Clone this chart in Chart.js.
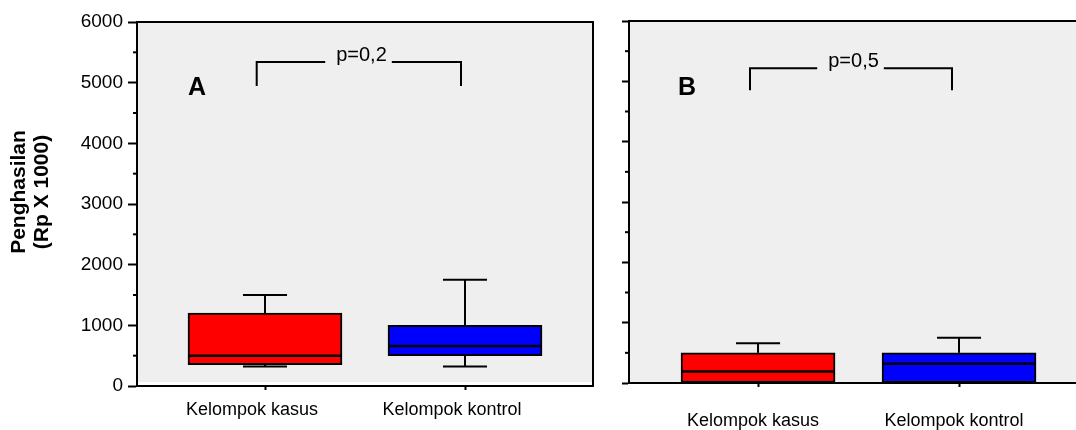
<!DOCTYPE html>
<html>
<head>
<meta charset="utf-8">
<script src="https://cdn.jsdelivr.net/npm/chart.js@4.4.1/dist/chart.umd.min.js"></script>
<style>
  html, body { margin: 0; padding: 0; background: #ffffff; }
  #wrap { position: relative; width: 1076px; height: 430px; overflow: hidden; }
  canvas { position: absolute; top: 0; }
  #panelA { left: 0; }
  #panelB { left: 600px; }
</style>
</head>
<body>
<div id="wrap">
  <canvas id="panelA" width="600" height="430"></canvas>
  <canvas id="panelB" width="476" height="430"></canvas>
</div>
<script>
// Groups on the x axis
const categories = ['Kelompok kasus', 'Kelompok kontrol'];
const boxColors = ['#ff0000', '#0000ff'];

// Income (Rp x 1000), panel A: whisker low, Q1, median, Q3, whisker high
const aWhiskerLow = [320, 320];
const aQ1 = [350, 500];
const aMedian = [500, 660];
const aQ3 = [1200, 1000];
const aWhiskerHigh = [1500, 1750];

// Income (Rp x 1000), panel B
const bWhiskerLow = [0, 0];
const bQ1 = [0, 0];
const bMedian = [190, 320];
const bQ3 = [500, 500];
const bWhiskerHigh = [660, 750];

// Y axis range and tick steps
const yMin = 0;
const yMax = 6000;
const yMajorStep = 1000;
const yMinorStep = 500;

// Panel captions
const panelLetters = ['A', 'B'];
const pLabels = ['p=0,2', 'p=0,5'];
const yTitleLines = ['Penghasilan', '(Rp X 1000)'];

const FAMILY = "'Liberation Sans', Arial, Helvetica, sans-serif";
Chart.defaults.font.family = FAMILY;
Chart.defaults.color = '#000';

function seg(ctx, x1, y1, x2, y2) {
  ctx.beginPath();
  ctx.moveTo(x1, y1);
  ctx.lineTo(x2, y2);
  ctx.stroke();
}

function makePanel(canvasId, p) {
  // grey plot area, frame lines and the short half-step ticks
  const frame = {
    id: 'frame',
    beforeDraw(chart) {
      const { ctx, chartArea: a } = chart;
      ctx.save();
      ctx.fillStyle = '#efefef';
      ctx.fillRect(a.left, a.top, a.right - a.left, a.bottom - a.top - p.bottomGap);
      ctx.restore();
    },
    afterDraw(chart) {
      const { ctx, chartArea: a, scales: { y } } = chart;
      ctx.save();
      ctx.strokeStyle = '#000';
      ctx.lineWidth = 2;
      seg(ctx, a.left - 1, a.top, a.right + 1, a.top);
      if (p.rightEdge) seg(ctx, a.right, a.top, a.right, a.bottom + 1);
      y.ticks.forEach(t => {
        if (t.value % yMajorStep !== 0) {
          const py = y.getPixelForValue(t.value);
          seg(ctx, a.left - p.minorTick, py, a.left, py);
        }
      });
      ctx.restore();
    }
  };

  // medians, whiskers and caps on top of the floating boxes
  const whiskers = {
    id: 'whiskers',
    afterDatasetsDraw(chart) {
      const { ctx, scales: { y } } = chart;
      ctx.save();
      ctx.strokeStyle = '#000';
      chart.getDatasetMeta(0).data.forEach((bar, i) => {
        const { x, width } = bar.getProps(['x', 'width'], true);
        const half = width / 2;
        const cap = width * 0.143;
        const pLow = y.getPixelForValue(p.low[i]);
        const pQ1 = y.getPixelForValue(p.q1[i]);
        const pMed = y.getPixelForValue(p.median[i]);
        const pQ3 = y.getPixelForValue(p.q3[i]);
        const pHigh = y.getPixelForValue(p.high[i]);
        ctx.lineWidth = 2;
        seg(ctx, x, pQ3, x, pHigh);
        seg(ctx, x - cap, pHigh, x + cap, pHigh);
        seg(ctx, x, pQ1, x, pLow);
        seg(ctx, x - cap, pLow, x + cap, pLow);
        ctx.lineWidth = 2.5;
        seg(ctx, x - half + 1, pMed, x + half - 1, pMed);
      });
      ctx.restore();
    }
  };

  // significance bracket and panel letter
  const bracket = {
    id: 'bracket',
    afterDraw(chart) {
      const { ctx, scales: { x, y } } = chart;
      const b = p.bracket;
      ctx.save();
      ctx.strokeStyle = '#000';
      ctx.fillStyle = '#000';
      ctx.lineWidth = 2;
      const xl = x.getPixelForValue(b.from);
      const xr = x.getPixelForValue(b.to);
      const xt = x.getPixelForValue(b.textAt);
      const yt = y.getPixelForValue(b.top);
      const yf = y.getPixelForValue(b.foot);
      ctx.font = '20px ' + FAMILY;
      ctx.textAlign = 'center';
      ctx.textBaseline = 'alphabetic';
      const w = ctx.measureText(p.pLabel).width;
      ctx.fillText(p.pLabel, xt, yt - 1);
      ctx.beginPath();
      ctx.moveTo(xl, yf);
      ctx.lineTo(xl, yt);
      ctx.lineTo(xt - w / 2 - 11, yt);
      ctx.moveTo(xt + w / 2 + 5, yt);
      ctx.lineTo(xr, yt);
      ctx.lineTo(xr, yf);
      ctx.stroke();
      ctx.font = 'bold 25px ' + FAMILY;
      ctx.fillText(p.letter, x.getPixelForValue(b.letterX), y.getPixelForValue(b.letterY));
      ctx.restore();
    }
  };

  // two-line rotated title of the income axis
  const yTitle = {
    id: 'yTitle',
    afterDraw(chart) {
      if (!p.yTitle) return;
      const { ctx } = chart;
      ctx.save();
      ctx.fillStyle = '#000';
      ctx.font = 'bold 21px ' + FAMILY;
      ctx.textAlign = 'center';
      ctx.textBaseline = 'alphabetic';
      p.yTitle.forEach((line, i) => {
        ctx.save();
        ctx.translate(25 + i * 23, 192);
        ctx.rotate(-Math.PI / 2);
        ctx.fillText(line, 0, 0);
        ctx.restore();
      });
      ctx.restore();
    }
  };

  return new Chart(document.getElementById(canvasId), {
    type: 'bar',
    data: {
      datasets: [{
        data: categories.map((c, i) => ({ x: i + 1, y: [p.q1[i], p.q3[i]] })),
        backgroundColor: boxColors,
        borderColor: '#000',
        borderWidth: 2,
        borderSkipped: false,
        barThickness: 154
      }]
    },
    options: {
      responsive: false,
      animation: false,
      events: [],
      layout: { padding: { top: p.top, right: p.padRight, left: 0, bottom: 0 } },
      plugins: { legend: { display: false }, tooltip: { enabled: false } },
      scales: {
        x: {
          type: 'linear',
          offset: false,
          min: p.xMin,
          max: p.xMax,
          afterBuildTicks: s => { s.ticks = categories.map((c, i) => ({ value: i + 1 })); },
          afterFit: s => { s.height = 430 - p.bottom; },
          grid: { offset: false, drawOnChartArea: false, drawTicks: true, tickLength: 4, tickWidth: 2, tickColor: '#000' },
          border: { display: true, color: '#000', width: 2 },
          ticks: {
            callback: v => categories[v - 1],
            padding: p.xPad,
            labelOffset: p.labelOffset,
            autoSkip: false,
            maxRotation: 0,
            color: '#000',
            font: { size: 18 }
          }
        },
        y: {
          type: 'linear',
          min: yMin,
          max: yMax,
          afterFit: s => { s.width = p.left; },
          grid: {
            drawOnChartArea: false,
            drawTicks: true,
            tickLength: p.majorTick,
            tickWidth: 2,
            tickColor: c => (c.tick && c.tick.value % yMajorStep === 0) ? '#000' : 'rgba(0,0,0,0)'
          },
          border: { display: true, color: '#000', width: 2 },
          ticks: {
            display: p.showLabels,
            stepSize: yMinorStep,
            autoSkip: false,
            padding: 5,
            color: '#000',
            font: { size: 19 },
            callback: v => (v % yMajorStep === 0 ? String(v) : '')
          }
        }
      }
    },
    plugins: [frame, whiskers, bracket, yTitle]
  });
}

makePanel('panelA', {
  low: aWhiskerLow, q1: aQ1, median: aMedian, q3: aQ3, high: aWhiskerHigh,
  letter: panelLetters[0], pLabel: pLabels[0], yTitle: yTitleLines,
  left: 137, top: 22, padRight: 7, bottom: 386,
  xMin: 0.36, xMax: 2.64, xPad: 9, labelOffset: -13,
  majorTick: 9, minorTick: 4, showLabels: true, rightEdge: true, bottomGap: 4,
  bracket: { from: 0.9585, to: 1.98, textAt: 1.4825, top: 5340, foot: 4945, letterX: 0.66, letterY: 4796 }
});

makePanel('panelB', {
  low: bWhiskerLow, q1: bQ1, median: bMedian, q3: bQ3, high: bWhiskerHigh,
  letter: panelLetters[1], pLabel: pLabels[1], yTitle: null,
  left: 29, top: 21, padRight: 0, bottom: 383,
  xMin: 0.358, xMax: 2.582, xPad: 23, labelOffset: -5,
  majorTick: 7, minorTick: 4, showLabels: false, rightEdge: false, bottomGap: 0,
  bracket: { from: 0.96, to: 1.965, textAt: 1.475, top: 5218, foot: 4854, letterX: 0.647, letterY: 4771 }
});
</script>
</body>
</html>
